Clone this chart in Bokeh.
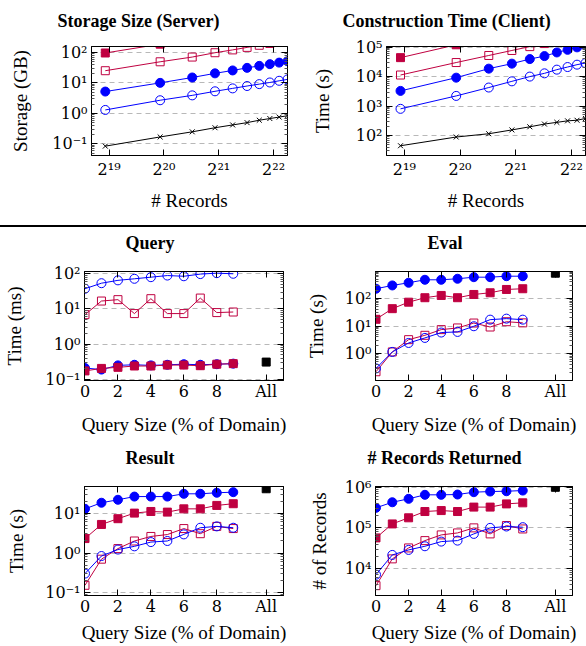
import numpy as np
from bokeh.plotting import figure
from bokeh.models import (FixedTicker, CustomJSTickFormatter, LinearAxis, LogAxis,
                          Range1d, Div)
from bokeh.layouts import column, row
from bokeh.embed import file_html
from bokeh.resources import INLINE

BLUE = "#0000FF"
PURPLE = "#BF0040"
BLACK = "#000000"
FONT = "Liberation Serif"
TICKFONT = "DejaVu Serif"

# ---------------- data ----------------
records = [500000, 1000000, 1500000, 2000000, 2500000, 3000000, 3500000, 4000000, 4500000, 5000000]

storage_black = [0.085, 0.17, 0.25, 0.34, 0.42, 0.50, 0.60, 0.68, 0.76, 0.84]
storage_blue_open = [1.3, 2.7, 3.9, 5.3, 6.6, 7.9, 9.1, 10.3, 11.7, 13.0]
storage_blue_filled = [5.2, 10.0, 15.0, 20.5, 25.5, 31.0, 36.0, 41.0, 46.0, 51.0]
storage_purple_open = [25, 49, 70, 97, 120, 145, 170, 195, 220, 245]
storage_purple_filled = [95, 185, 280, 370, 465, 560, 650, 745, 840, 930]

construct_black = [45, 89, 115, 155, 198, 245, 280, 315, 330, 380]
construct_blue_open = [805, 2210, 4250, 6900, 10000, 12900, 17200, 21100, 25400, 28800]
construct_blue_filled = [3270, 9200, 18600, 27500, 39300, 49600, 66000, 81000, 98000, 115000]
construct_purple_open = [11300, 30000, 52000, 77000, 104000, 132000, 162000, 194000, 228000, 262000]
construct_purple_filled = [44000, 120000, 205000, 300000, 400000, 510000, 620000, 740000, 860000, 990000]

query_size = [0, 1, 2, 3, 4, 5, 6, 7, 8, 9]
all_pos = [11]

query_blue_open = [37.6, 54, 65, 72, 80, 89, 85, 98, 104, 100]
query_purple_open = [6.9, 16.8, 18.4, 7.4, 19.6, 7.4, 7.4, 20.4, 7.9, 8.2]
query_blue_filled = [0.21, 0.19, 0.25, 0.26, 0.25, 0.26, 0.27, 0.26, 0.27, 0.28]
query_purple_filled = [0.174, 0.205, 0.22, 0.24, 0.24, 0.255, 0.255, 0.245, 0.27, 0.28]
query_all = [0.31]

eval_blue_filled = [224, 295, 369, 473, 473, 515, 588, 588, 638, 638]
eval_purple_filled = [17.5, 42.5, 73, 106, 128, 106, 139, 160, 211, 224]
eval_blue_open = [0.29, 1.15, 2.43, 3.7, 5.8, 6.1, 9.8, 17, 18.5, 17]
eval_purple_open = [0.22, 1.15, 3.2, 4.6, 7.4, 8.5, 12.8, 9.2, 14.3, 13]
eval_all = [820]

result_blue_filled = [12.8, 18.2, 21.6, 26, 26, 26, 30.5, 30.5, 32.4, 33.5]
result_purple_filled = [2.3, 5.2, 7.25, 10, 11, 10.6, 12.8, 12.8, 15.6, 17.2]
result_blue_open = [0.305, 0.84, 1.22, 1.47, 1.88, 2.0, 2.93, 4.3, 4.65, 4.3]
result_purple_open = [0.155, 0.70, 1.29, 2.0, 2.6, 2.9, 4.1, 3.05, 4.65, 4.1]
result_all = [40.8]

returned_blue_filled = [312000, 428000, 520000, 653000, 653000, 664000, 758000, 787000, 800000, 832000]
returned_purple_filled = [56600, 125000, 177000, 253000, 267000, 253000, 325000, 325000, 390000, 414000]
returned_blue_open = [7030, 21500, 28600, 35200, 45900, 48500, 71000, 100000, 108000, 104000]
returned_purple_open = [3760, 17200, 32000, 48500, 67000, 75000, 100000, 71000, 114000, 94000]
returned_all = [1000000]

# ---------------- ticks ----------------
rec_ticks = [524288, 1048576, 2097152, 4194304]
rec_labels = ["2¹⁹", "2²⁰", "2²¹", "2²²"]
size_ticks = [0, 2, 4, 6, 8, 11]
size_labels = ["0", "2", "4", "6", "8", "All"]

storage_yticks = [0.1, 1, 10, 100]
storage_ylabels = ["10⁻¹", "10⁰", "10¹", "10²"]
construct_yticks = [100, 1000, 10000, 100000]
construct_ylabels = ["10²", "10³", "10⁴", "10⁵"]
query_yticks = [0.1, 1, 10, 100]
query_ylabels = ["10⁻¹", "10⁰", "10¹", "10²"]
eval_yticks = [1, 10, 100, 1000]
eval_ylabels = ["10⁰", "10¹", "10²", "10³"]
result_yticks = [0.1, 1, 10]
result_ylabels = ["10⁻¹", "10⁰", "10¹"]
returned_yticks = [10000, 100000, 1000000]
returned_ylabels = ["10⁴", "10⁵", "10⁶"]


def log_minor(lo, hi):
    out = []
    for k in range(lo, hi + 1):
        for m in range(2, 10):
            out.append(m * 10.0 ** k)
    return out


def fmt(tv, tl):
    return CustomJSTickFormatter(args=dict(tvals=tv, tlabels=tl), code="""
        for (let i = 0; i < tvals.length; i++) {
            if (Math.abs(tvals[i] - tick) <= 1e-9 * Math.max(1, Math.abs(tick))) return tlabels[i];
        }
        return "";
    """)


def style_axis(ax, show_labels):
    ax.axis_line_color = BLACK
    ax.axis_line_width = 1
    ax.major_tick_in = 6
    ax.major_tick_out = 0
    ax.minor_tick_in = 3
    ax.minor_tick_out = 0
    ax.major_tick_line_color = BLACK
    ax.minor_tick_line_color = "#555555"
    ax.major_label_text_font = TICKFONT
    ax.axis_label_text_font = FONT
    ax.axis_label_text_font_style = "normal"
    ax.axis_label_text_color = BLACK
    ax.major_label_text_color = BLACK
    if show_labels:
        ax.major_label_text_font_size = "16px"
        ax.axis_label_text_font_size = "19px"
    else:
        ax.formatter = CustomJSTickFormatter(code="return '';")
        ax.major_label_text_font_size = "4px"
        ax.major_label_standoff = 0
        ax.axis_label = None


def set_title_gap(p, gap, fallback_standoff):
    try:
        p.title.padding = dict(top=0, right=0, bottom=gap, left=0)
        p.title.standoff = 0
    except Exception:
        p.title.standoff = fallback_standoff


def panel(title, title_offset, title_gap, fallback_standoff, ylabel, xlabel, width, height, borders,
          x_range, y_range, x_log, xticks, xlabels, yticks, ylabels, ydec,
          xtick_standoff, xlab_standoff, ylab_standoff):
    l, r, t, b = borders
    p = figure(width=width, height=height,
               x_axis_type="log" if x_log else "linear", y_axis_type="log",
               x_range=Range1d(*x_range), y_range=Range1d(*y_range),
               output_backend="svg", toolbar_location=None,
               min_border_left=l, min_border_right=r, min_border_top=t, min_border_bottom=b)
    p.title.text = title
    p.title.align = "left"
    p.title.offset = title_offset
    p.title.text_font = FONT
    p.title.text_font_size = "18px"
    p.title.text_font_style = "bold"
    p.title.text_color = BLACK
    set_title_gap(p, title_gap, fallback_standoff)

    yt = FixedTicker(ticks=yticks, minor_ticks=log_minor(*ydec))
    xt = FixedTicker(ticks=xticks, minor_ticks=[])

    p.yaxis.ticker = yt
    p.yaxis.formatter = fmt(yticks, ylabels)
    p.yaxis.axis_label = ylabel
    p.xaxis.ticker = xt
    p.xaxis.formatter = fmt(xticks, xlabels)
    p.xaxis.axis_label = xlabel
    style_axis(p.yaxis[0], True)
    style_axis(p.xaxis[0], True)
    p.yaxis.major_label_standoff = 4
    p.yaxis.axis_label_standoff = ylab_standoff
    p.xaxis.major_label_standoff = xtick_standoff
    p.xaxis.axis_label_standoff = xlab_standoff

    ra = LogAxis(ticker=yt)
    style_axis(ra, False)
    p.add_layout(ra, "right")
    ta = LogAxis(ticker=xt) if x_log else LinearAxis(ticker=xt)
    style_axis(ta, False)
    p.add_layout(ta, "above")

    p.xgrid.visible = False
    p.ygrid.ticker = yt
    p.ygrid.grid_line_color = "#b8b8b8"
    p.ygrid.grid_line_dash = "5 4"
    p.ygrid.grid_line_width = 1
    p.ygrid.minor_grid_line_color = None
    p.outline_line_color = BLACK
    p.background_fill_color = "white"
    p.border_fill_color = "white"
    return p


def series(p, x, y, color, marker, filled, size):
    p.line(x, y, line_color=color, line_width=1)
    p.scatter(x, y, marker=marker, size=size, line_color=color, line_width=1,
              fill_color=color if filled else None)


# ---------------- top row ----------------
p1 = panel("Storage Size (Server)", -34, 16, 23, "Storage (GB)", "# Records", 293, 225, (91, 6, 46, 70),
           (420000, 5000000), (0.042, 155), True, rec_ticks, rec_labels,
           storage_yticks, storage_ylabels, (-2, 2), 4, 8, 18)
series(p1, records, storage_black, BLACK, "x", False, 7)
series(p1, records, storage_blue_open, BLUE, "circle", False, 9)
series(p1, records, storage_blue_filled, BLUE, "circle", True, 9)
series(p1, records, storage_purple_open, PURPLE, "square", False, 8)
series(p1, records, storage_purple_filled, PURPLE, "square", True, 8)

p2 = panel("Construction Time (Client)", -44, 16, 23, "Time (s)", "# Records", 293, 225, (93, 1, 46, 70),
           (420000, 5000000), (21, 105000), True, rec_ticks, rec_labels,
           construct_yticks, construct_ylabels, (1, 5), 4, 8, 20)
series(p2, records, construct_black, BLACK, "x", False, 7)
series(p2, records, construct_blue_open, BLUE, "circle", False, 9)
series(p2, records, construct_blue_filled, BLUE, "circle", True, 9)
series(p2, records, construct_purple_open, PURPLE, "square", False, 8)
series(p2, records, construct_purple_filled, PURPLE, "square", True, 8)

sep = Div(text="", width=586, height=2, margin=(0, 0, 0, 0),
          styles={"background-color": "black"})

QX = "Query Size (% of Domain)"

# ---------------- middle row ----------------
p3 = panel("Query", 41, 19, 21, "Time (ms)", QX, 293, 215, (84, 10, 44, 62),
           (-0.03, 12.05), (0.093, 116), False, size_ticks, size_labels,
           query_yticks, query_ylabels, (-2, 2), 1, 10, 17)
series(p3, query_size, query_blue_open, BLUE, "circle", False, 9)
series(p3, query_size, query_blue_filled, BLUE, "circle", True, 9)
series(p3, query_size, query_purple_open, PURPLE, "square", False, 8)
series(p3, query_size, query_purple_filled, PURPLE, "square", True, 8)
p3.scatter(all_pos, query_all, marker="square", size=8, color=BLACK)

p4 = panel("Eval", 52, 19, 21, "Time (s)", QX, 293, 215, (82, 14, 44, 62),
           (-0.03, 12.05), (0.106, 944), False, size_ticks, size_labels,
           eval_yticks, eval_ylabels, (-1, 3), 1, 10, 15)
series(p4, query_size, eval_blue_filled, BLUE, "circle", True, 9)
series(p4, query_size, eval_purple_filled, PURPLE, "square", True, 8)
series(p4, query_size, eval_purple_open, PURPLE, "square", False, 8)
series(p4, query_size, eval_blue_open, BLUE, "circle", False, 9)
p4.scatter(all_pos, eval_all, marker="square", size=8, color=BLACK)

# ---------------- bottom row ----------------
p5 = panel("Result", 41, 19, 21, "Time (s)", QX, 293, 204, (84, 10, 44, 51),
           (-0.03, 12.05), (0.086, 46.5), False, size_ticks, size_labels,
           result_yticks, result_ylabels, (-2, 2), 1, 3, 15)
series(p5, query_size, result_blue_filled, BLUE, "circle", True, 9)
series(p5, query_size, result_purple_filled, PURPLE, "square", True, 8)
series(p5, query_size, result_purple_open, PURPLE, "square", False, 8)
series(p5, query_size, result_blue_open, BLUE, "circle", False, 9)
p5.scatter(all_pos, result_all, marker="square", size=8, color=BLACK)

p6 = panel("# Records Returned", -8, 19, 21, "# of Records", QX, 293, 204, (82, 14, 44, 51),
           (-0.03, 12.05), (2150, 1047000), False, size_ticks, size_labels,
           returned_yticks, returned_ylabels, (3, 6), 1, 3, 12)
series(p6, query_size, returned_blue_filled, BLUE, "circle", True, 9)
series(p6, query_size, returned_purple_filled, PURPLE, "square", True, 8)
series(p6, query_size, returned_purple_open, PURPLE, "square", False, 8)
series(p6, query_size, returned_blue_open, BLUE, "circle", False, 9)
p6.scatter(all_pos, returned_all, marker="square", size=8, color=BLACK)

layout = column(row(p1, p2, spacing=0), sep, row(p3, p4, spacing=0), row(p5, p6, spacing=0),
                spacing=0)

open("out.html", "w").write(file_html(layout, INLINE))
